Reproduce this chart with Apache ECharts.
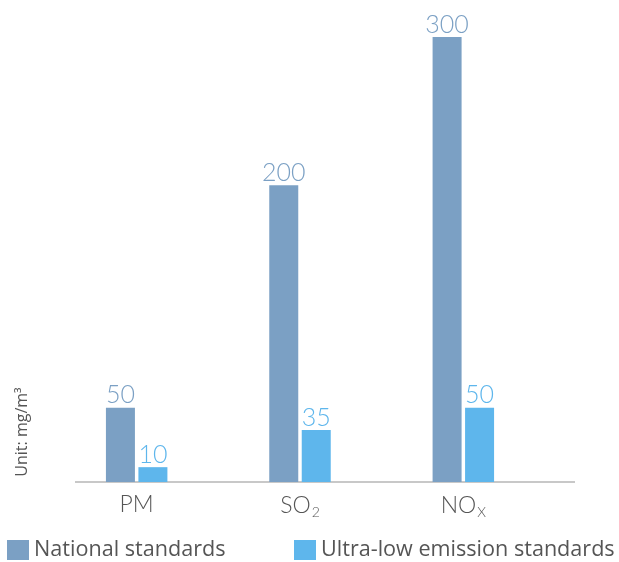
<!DOCTYPE html>
<html>
<head>
<meta charset="utf-8">
<script src="https://cdn.jsdelivr.net/npm/echarts@6/dist/echarts.min.js"></script>
<style>
  html, body { margin: 0; padding: 0; background: #fff; }
  #main { width: 619px; height: 562px; }
</style>
</head>
<body>
<div id="main"></div>
<script>
// 数据
const categories = ['PM', 'SO2', 'NOX'];
const nationalValues = [50, 200, 300];
const ultraLowValues = [10, 35, 50];
const seriesNames = ['National standards', 'Ultra-low emission standards'];

const chart = echarts.init(document.getElementById('main'));

const labelFont = 'Lato, "DejaVu Sans", sans-serif';

// 图例样式
function legendAt(left, name) {
  return {
    left: left,
    bottom: 1,
    padding: 0,
    itemWidth: 22,
    itemHeight: 20,
    icon: 'rect',
    textStyle: {
      color: '#555',
      fontSize: 21.6,
      fontFamily: '"Open Sans", "Noto Sans", sans-serif'
    },
    data: [name]
  };
}

chart.setOption({
  animation: false,
  grid: {
    left: 55,
    width: 490,
    top: 37,
    bottom: 80
  },
  legend: [
    legendAt(7, seriesNames[0]),
    legendAt(294, seriesNames[1])
  ],
  xAxis: {
    type: 'category',
    data: categories,
    axisLine: { show: false },
    axisTick: { show: false },
    axisLabel: {
      margin: 11,
      color: '#555',
      fontFamily: labelFont,
      formatter: function (v) {
        if (v === 'SO2') return '{a|SO}{b|2}';
        if (v === 'NOX') return '{a|NO}{b|X}';
        return '{a|' + v + '}';
      },
      rich: {
        a: { fontSize: 23, color: '#555', fontFamily: labelFont, fontWeight: 300 },
        b: { fontSize: 14, color: '#555', fontFamily: labelFont, fontWeight: 300, verticalAlign: 'bottom', padding: [12, 0, 0, 1] }
      }
    }
  },
  yAxis: {
    type: 'value',
    min: 0,
    max: 300,
    show: false
  },
  graphic: [
    {
      type: 'line',
      shape: { x1: 75, y1: 482, x2: 575, y2: 482 },
      style: { stroke: '#c8c8c8', lineWidth: 2 }
    },
    {
      type: 'text',
      x: 22,
      y: 432,
      rotation: Math.PI / 2,
      style: {
        text: 'Unit: mg/m³',
        fill: '#555',
        fontSize: 16,
        fontFamily: '"Open Sans", sans-serif',
        align: 'center',
        verticalAlign: 'middle'
      }
    }
  ],
  series: [
    {
      name: seriesNames[0],
      type: 'bar',
      data: nationalValues,
      barWidth: 29,
      barGap: '12%',
      itemStyle: { color: '#7ba0c4' },
      label: {
        show: true,
        position: 'top',
        distance: 0,
        color: '#7ba0c4',
        fontSize: 25,
        fontFamily: labelFont,
        fontWeight: 300
      }
    },
    {
      name: seriesNames[1],
      type: 'bar',
      data: ultraLowValues,
      barWidth: 29,
      itemStyle: { color: '#5eb6ec' },
      label: {
        show: true,
        position: 'top',
        distance: 0,
        color: '#5eb6ec',
        fontSize: 25,
        fontFamily: labelFont,
        fontWeight: 300
      }
    }
  ]
});
</script>
</body>
</html>
